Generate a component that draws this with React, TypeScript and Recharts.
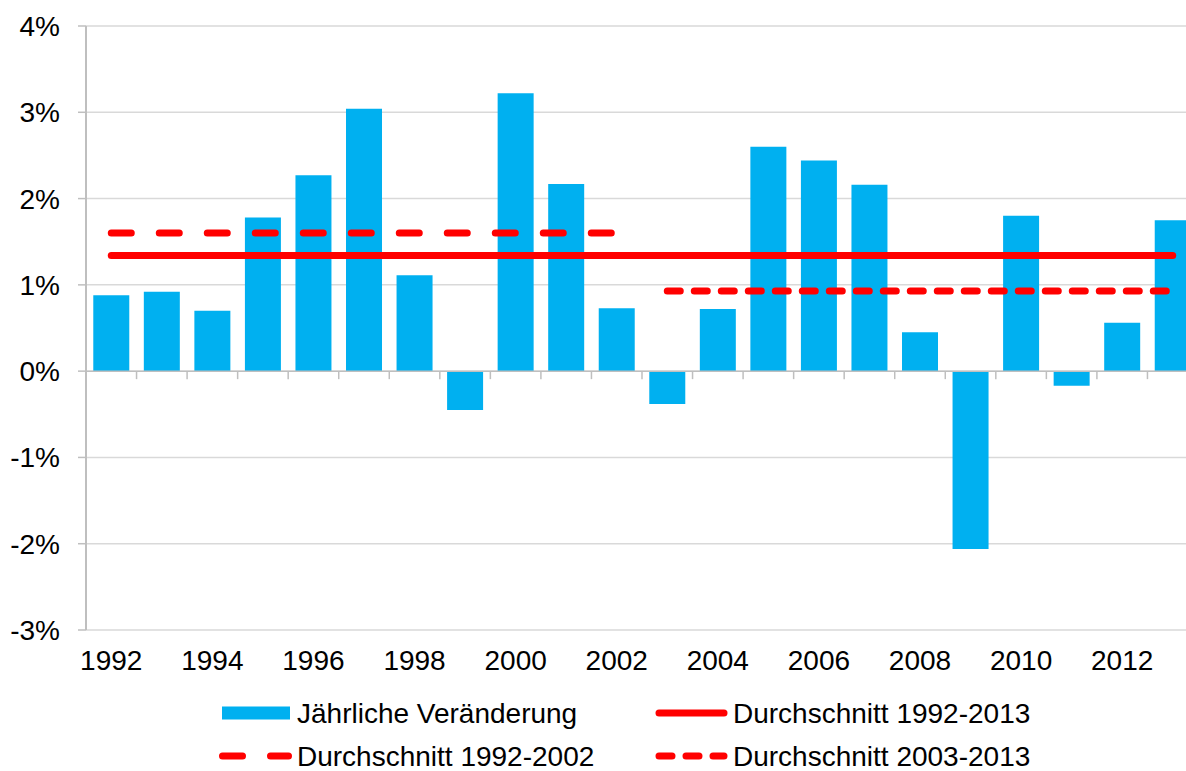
import React from 'react';
import { ComposedChart, Bar, Line, XAxis, YAxis, CartesianGrid, ReferenceLine, Legend } from 'recharts';

const YEARS = ['1992','1993','1994','1995','1996','1997','1998','1999','2000','2001','2002','2003','2004','2005','2006','2007','2008','2009','2010','2011','2012','2013'];
const CHANGES = [0.88, 0.92, 0.70, 1.78, 2.27, 3.04, 1.11, -0.45, 3.22, 2.17, 0.73, -0.38, 0.72, 2.60, 2.44, 2.16, 0.45, -2.06, 1.80, -0.17, 0.56, 1.75];
const AVG_ALL = 1.34;
const AVG_EARLY = 1.60;
const AVG_LATE = 0.93;
const EARLY_END = '2002';
const Y_TICKS = [-3, -2, -1, 0, 1, 2, 3, 4];
const LABELS = {
  bars: 'Jährliche Veränderung',
  all: 'Durchschnitt 1992-2013',
  early: 'Durchschnitt 1992-2002',
  late: 'Durchschnitt 2003-2013',
};

const W = 1186;
const CHART_W = 1198;
const H = 771;
const M_TOP = 26;
const Y_W = 86;
const X_H = 60;
const LEG_H = 81;
const PLOT_H = H - M_TOP - X_H - LEG_H;
const BAND = (CHART_W - Y_W) / YEARS.length;
const Y_MIN = Y_TICKS[0];
const Y_MAX = Y_TICKS[Y_TICKS.length - 1];
const ZERO_Y = M_TOP + ((Y_MAX - 0) / (Y_MAX - Y_MIN)) * PLOT_H;

const FONT = '"Liberation Sans", Arial, sans-serif';
const FS = 28;
const BLUE = '#00b0f0';
const RED = '#ff0000';
const AXIS = '#bfbfbf';

const earlyIdx = YEARS.indexOf(EARLY_END);
const data = YEARS.map((y, i) => ({
  year: y,
  change: CHANGES[i],
  all: AVG_ALL,
  early: i <= earlyIdx ? AVG_EARLY : null,
  late: i > earlyIdx ? AVG_LATE : null,
}));

const XTick = (props: any) => {
  const { x, y, payload } = props;
  const idx = YEARS.indexOf(payload.value);
  const tx = x + BAND / 2;
  return (
    <g>
      {idx < YEARS.length - 1 && (
        <line x1={tx} x2={tx} y1={ZERO_Y} y2={ZERO_Y + 8} stroke={AXIS} strokeWidth={1.5} />
      )}
      {idx % 2 === 0 && (
        <text x={x} y={y + 32} textAnchor="middle" fontFamily={FONT} fontSize={FS} fill="#000">
          {payload.value}
        </text>
      )}
    </g>
  );
};

const LegendContent = () => {
  const r1 = 23;
  const r2 = 66;
  const t = { fontFamily: FONT, fontSize: FS, fill: '#000', dominantBaseline: 'central' as const };
  return (
    <svg width={W} height={LEG_H} style={{ display: 'block' }}>
      <rect x={222} y={r1 - 6.5} width={68} height={13} fill={BLUE} />
      <text x={297} y={r1} {...t}>{LABELS.bars}</text>
      <line x1={659} x2={724} y1={r1} y2={r1} stroke={RED} strokeWidth={7} strokeLinecap="round" />
      <text x={733} y={r1} {...t}>{LABELS.all}</text>
      <line x1={222.5} x2={288.5} y1={r2} y2={r2} stroke={RED} strokeWidth={7} strokeLinecap="round" strokeDasharray="20 28" />
      <text x={297} y={r2} {...t}>{LABELS.early}</text>
      <line x1={659} x2={724} y1={r2} y2={r2} stroke={RED} strokeWidth={7} strokeLinecap="round" strokeDasharray="13 14" />
      <text x={733} y={r2} {...t}>{LABELS.late}</text>
    </svg>
  );
};

export default function App() {
  return (
    <div style={{ position: 'absolute', left: 0, top: 0, width: W, height: H, overflow: 'hidden', background: '#fff' }}>
      <ComposedChart
        width={CHART_W}
        height={H}
        data={data}
        margin={{ top: M_TOP, right: 0, left: 0, bottom: 0 }}
        barCategoryGap="14.4%"
      >
        <CartesianGrid vertical={false} stroke="#d9d9d9" strokeWidth={1.5} />
        <XAxis
          dataKey="year"
          height={X_H}
          interval={0}
          axisLine={false}
          tickLine={false}
          tick={<XTick />}
        />
        <YAxis
          width={Y_W}
          domain={[Y_MIN, Y_MAX]}
          ticks={Y_TICKS}
          tickFormatter={(v: number) => `${v}%`}
          axisLine={{ stroke: AXIS, strokeWidth: 2 }}
          tickLine={{ stroke: AXIS, strokeWidth: 1.5 }}
          tickSize={8}
          tickMargin={18}
          tick={{ fontFamily: FONT, fontSize: FS, fill: '#000' }}
          allowDataOverflow
        />
        <ReferenceLine y={0} stroke={AXIS} strokeWidth={1.5} />
        <Bar dataKey="change" fill={BLUE} isAnimationActive={false} />
        <Line dataKey="all" stroke={RED} strokeWidth={7} strokeLinecap="round" dot={false} activeDot={false} isAnimationActive={false} />
        <Line dataKey="early" stroke={RED} strokeWidth={7} strokeLinecap="round" strokeDasharray="20 28" dot={false} activeDot={false} isAnimationActive={false} />
        <Line dataKey="late" stroke={RED} strokeWidth={7} strokeLinecap="round" strokeDasharray="13 14" dot={false} activeDot={false} isAnimationActive={false} />
        <Legend
          verticalAlign="bottom"
          content={<LegendContent />}
          wrapperStyle={{ left: 0, bottom: 0, width: W, height: LEG_H }}
        />
      </ComposedChart>
    </div>
  );
}
